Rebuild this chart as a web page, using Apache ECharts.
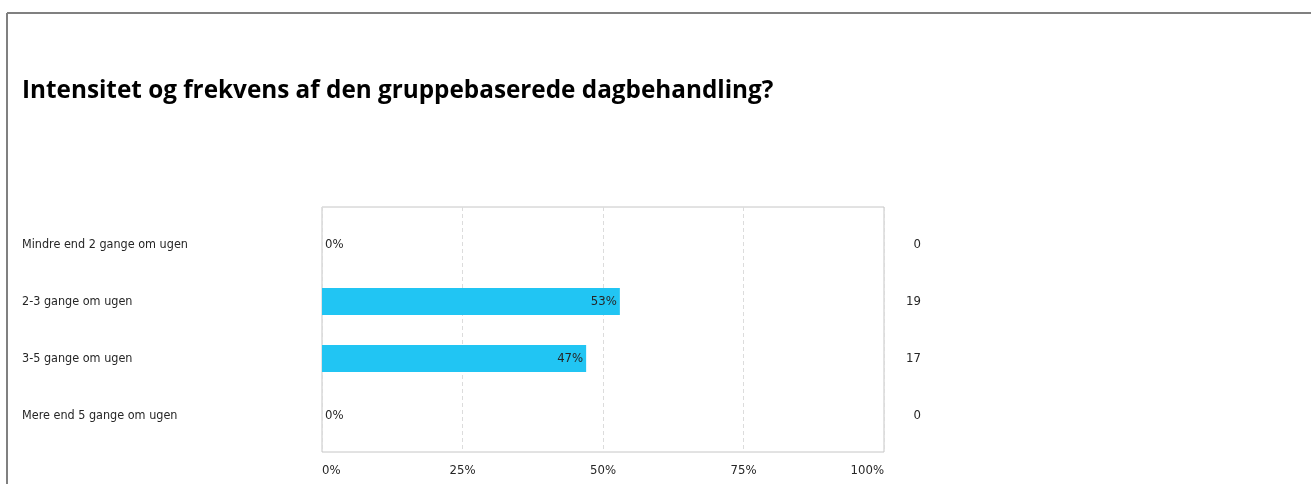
<!DOCTYPE html>
<html>
<head>
<meta charset="utf-8">
<script src="https://cdn.jsdelivr.net/npm/echarts@6/dist/echarts.min.js"></script>
<style>
  html, body { margin: 0; padding: 0; background: #fff; }
  #chart { width: 1311px; height: 484px; }
</style>
</head>
<body>
<div id="chart"></div>
<script>
// Survey answers: how often the group-based day treatment takes place
const titleText = 'Intensitet og frekvens af den gruppebaserede dagbehandling?';
const categories = [
  'Mindre end 2 gange om ugen',
  '2-3 gange om ugen',
  '3-5 gange om ugen',
  'Mere end 5 gange om ugen'
];
const percentages = [0, 53, 47, 0];
const counts = [0, 19, 17, 0];
const xTicks = [0, 25, 50, 75, 100];

const labelFont = '"DejaVu Sans Condensed", sans-serif';
const textColor = '#262626';
const barColor = '#21c5f3';

const plotLeft = 322, plotWidth = 562;

const chart = echarts.init(document.getElementById('chart'), null, { renderer: 'canvas' });

chart.setOption({
  animation: false,
  backgroundColor: '#ffffff',
  title: {
    text: titleText,
    left: 17,
    top: 74,
    textStyle: {
      fontFamily: '"Open Sans", sans-serif',
      fontWeight: 'bold',
      fontSize: 24.3,
      color: '#000000'
    }
  },
  graphic: [
    // page frame: top and left rules
    { type: 'line', shape: { x1: 7, y1: 13, x2: 1311, y2: 13 }, style: { stroke: '#808080', lineWidth: 2 } },
    { type: 'line', shape: { x1: 7, y1: 13, x2: 7, y2: 484 }, style: { stroke: '#808080', lineWidth: 2 } }
  ],
  grid: [
    // outer plot frame with the percentage scale
    { left: plotLeft, top: 207, width: plotWidth, height: 245, show: true, borderColor: '#c6c6c6', borderWidth: 1, backgroundColor: 'transparent' },
    // inner band where the bars sit
    { left: plotLeft, top: 216, width: plotWidth, height: 228 }
  ],
  xAxis: [
    {
      gridIndex: 0, type: 'value', min: xTicks[0], max: xTicks[xTicks.length - 1], interval: 25,
      axisLine: { show: false }, axisTick: { show: false },
      splitLine: { show: true, lineStyle: { color: '#dcdcdc', type: [4, 3], width: 1 } },
      axisLabel: {
        formatter: '{value}%', color: textColor, fontFamily: labelFont, fontSize: 13, margin: 12,
        alignMinLabel: 'left', alignMaxLabel: 'right'
      }
    },
    { gridIndex: 1, type: 'value', min: 0, max: 100, show: false }
  ],
  yAxis: [
    { gridIndex: 0, type: 'value', show: false },
    {
      gridIndex: 1, type: 'category', data: categories, inverse: true,
      axisLine: { show: false }, axisTick: { show: false }, splitLine: { show: false },
      axisLabel: { align: 'left', margin: plotLeft - 22, color: textColor, fontFamily: labelFont, fontSize: 12.5 }
    },
    {
      gridIndex: 1, type: 'category', position: 'right', data: counts.map(String), inverse: true,
      axisLine: { show: false }, axisTick: { show: false }, splitLine: { show: false },
      axisLabel: { align: 'right', margin: 37, color: textColor, fontFamily: labelFont, fontSize: 13 }
    }
  ],
  series: [{
    type: 'bar',
    xAxisIndex: 1,
    yAxisIndex: 1,
    barWidth: 27,
    itemStyle: { color: barColor },
    data: percentages.map(v => ({
      value: v,
      label: v > 0
        ? { show: true, position: 'insideRight', distance: 3 }
        : { show: true, position: 'right', distance: 3 }
    })),
    label: { formatter: '{c}%', color: textColor, fontFamily: labelFont, fontSize: 13 }
  }]
});
</script>
</body>
</html>
